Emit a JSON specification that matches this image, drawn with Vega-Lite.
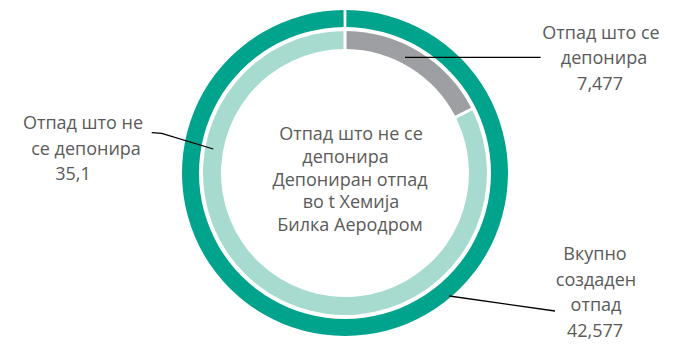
{
  "$schema": "https://vega.github.io/schema/vega-lite/v6.json",
  "width": 660,
  "height": 346,
  "autosize": "none",
  "padding": {"left": 15, "right": 0, "top": 0, "bottom": 0},
  "config": {"view": {"stroke": null}, "font": "Open Sans"},
  "layer": [
    {
      "data": {"values": [{"seg": "Вкупно создаден отпад", "v": 42577, "o": 1}]},
      "mark": {"type": "arc", "outerRadius": 163, "innerRadius": 146},
      "encoding": {
        "theta": {"field": "v", "type": "quantitative", "stack": true, "scale": {"range": [0.009, 6.274]}},
        "order": {"field": "o", "type": "quantitative"},
        "color": {"field": "seg", "type": "nominal", "legend": null,
          "scale": {"domain": ["Вкупно создаден отпад", "Отпад што се депонира", "Отпад што не се депонира"],
                    "range": ["#00A38B", "#9D9FA2", "#A7DBCF"]}}
      }
    },
    {
      "data": {"values": [
        {"seg": "Отпад што се депонира", "v": 7477, "o": 1},
        {"seg": "Отпад што не се депонира", "v": 35100, "o": 2}
      ]},
      "mark": {"type": "arc", "outerRadius": 142, "innerRadius": 124, "padAngle": 0.016},
      "encoding": {
        "theta": {"field": "v", "type": "quantitative", "stack": true},
        "order": {"field": "o", "type": "quantitative"},
        "color": {"field": "seg", "type": "nominal", "legend": null}
      }
    },
    {
      "data": {"values": [
        {"id": "a", "o": 1, "x": 60, "y": 115.7},
        {"id": "a", "o": 2, "x": 195.7, "y": 115.7},
        {"id": "b", "o": 1, "x": -193.3, "y": 40.3},
        {"id": "b", "o": 2, "x": -183.3, "y": 39.7},
        {"id": "b", "o": 3, "x": -131.7, "y": 24},
        {"id": "c", "o": 1, "x": 104.3, "y": -123},
        {"id": "c", "o": 2, "x": 210, "y": -138}
      ]},
      "mark": {"type": "line", "color": "#000000", "strokeWidth": 1.3},
      "encoding": {
        "x": {"field": "x", "type": "quantitative", "scale": {"domain": [-330, 330], "nice": false, "zero": false}, "axis": null},
        "y": {"field": "y", "type": "quantitative", "scale": {"domain": [-173, 173], "nice": false, "zero": false}, "axis": null},
        "detail": {"field": "id", "type": "nominal"},
        "order": {"field": "o", "type": "quantitative"}
      }
    },
    {
      "data": {"values": [
        {"t": "Отпад што се", "x": 256, "y": 139},
        {"t": "депонира", "x": 259, "y": 114},
        {"t": "7,477", "x": 255, "y": 88},
        {"t": "Отпад што не", "x": -262, "y": 49},
        {"t": "се депонира", "x": -259, "y": 23},
        {"t": "35,1", "x": -272, "y": -2},
        {"t": "Вкупно", "x": 250, "y": -82},
        {"t": "создаден", "x": 251, "y": -108},
        {"t": "отпад", "x": 251, "y": -133},
        {"t": "42,577", "x": 250, "y": -159},
        {"t": "Отпад што не се", "x": 6, "y": 38},
        {"t": "депонира", "x": 0.5, "y": 15},
        {"t": "Депониран отпад", "x": 5, "y": -8},
        {"t": "во t Хемија", "x": 6, "y": -30},
        {"t": "Билка Аеродром", "x": 5, "y": -53}
      ]},
      "mark": {"type": "text", "fontSize": 18, "color": "#5A5A5A", "align": "center", "baseline": "middle"},
      "encoding": {
        "x": {"field": "x", "type": "quantitative"},
        "y": {"field": "y", "type": "quantitative"},
        "text": {"field": "t", "type": "nominal"}
      }
    }
  ],
  "resolve": {"scale": {"theta": "independent"}}
}
